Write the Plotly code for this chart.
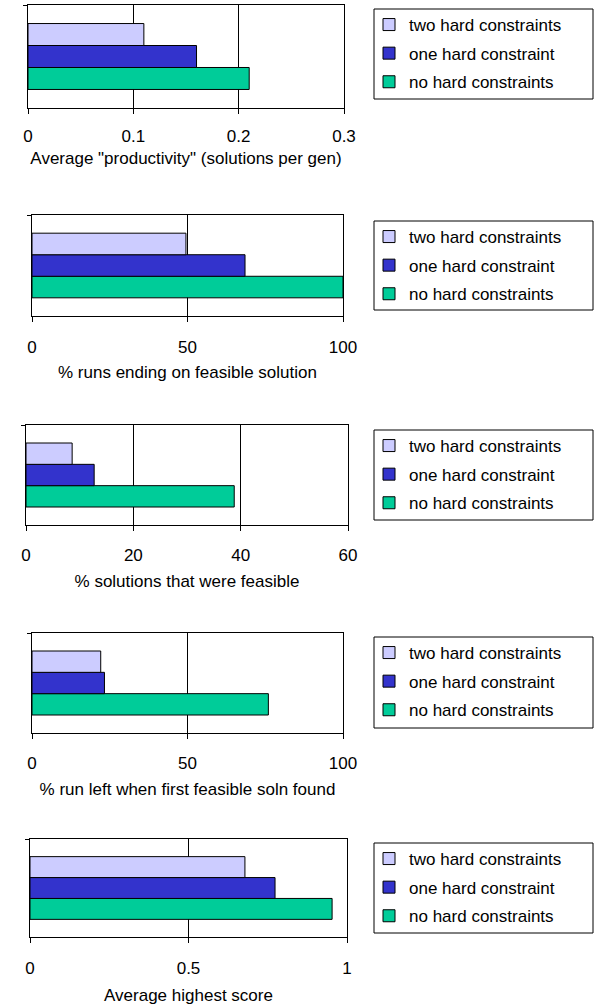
import plotly.graph_objects as go

W, H = 595, 1008

# ---------------- data ----------------
series_names = ["no hard constraints", "one hard constraint", "two hard constraints"]
series_colors = ["#00CC99", "#3333CC", "#CCCCFF"]
legend_ranks = [3, 2, 1]
category = [""]

# values ordered: no, one, two hard constraints
productivity = [0.21, 0.16, 0.11]
runs_feasible = [100, 68.5, 49.5]
solutions_feasible = [38.8, 12.7, 8.6]
run_left = [76, 23.3, 22.1]
highest_score = [0.953, 0.773, 0.678]

panel_values = [productivity, runs_feasible, solutions_feasible, run_left, highest_score]
panel_titles = [
    'Average "productivity" (solutions per gen)',
    "% runs ending on feasible solution",
    "% solutions that were feasible",
    "% run left when first feasible soln found",
    "Average highest score",
]
tick_values = [
    [0, 0.1, 0.2, 0.3],
    [0, 50, 100],
    [0, 20, 40, 60],
    [0, 50, 100],
    [0, 0.5, 1],
]

# ---------------- layout geometry (pixels) ----------------
plot_boxes = [  # left, right, top, bottom
    (28, 344, 5, 108),
    (32, 343, 215, 316),
    (26, 348, 425, 525),
    (32, 343, 633, 733),
    (30, 347, 839, 937),
]
legend_boxes = [  # left, right, top, bottom
    (374, 593, 9, 99),
    (374, 593, 221, 310),
    (374, 593, 430, 520),
    (374, 593, 637, 728),
    (374, 593, 843, 933),
]
tick_standoffs = [8, 11, 10, 10, 11]
title_standoffs = [6, 9, 10, 10, 11]

FONT = "Liberation Sans, Arial, sans-serif"
FS = 17

fig = go.Figure()
layout = dict(
    width=W, height=H,
    margin=dict(l=0, r=0, t=0, b=0),
    paper_bgcolor="white", plot_bgcolor="white",
    barmode="group", bargap=0.36, bargroupgap=0,
    font=dict(family=FONT, size=FS, color="black"),
    shapes=[],
)

for i, vals in enumerate(panel_values):
    n = "" if i == 0 else str(i + 1)
    leg = "legend" if i == 0 else f"legend{i + 1}"
    for j, name in enumerate(series_names):
        fig.add_trace(go.Bar(
            x=[vals[j]], y=category, orientation="h", name=name,
            marker=dict(color=series_colors[j], line=dict(color="black", width=1)),
            xaxis="x" + n, yaxis="y" + n, legend=leg,
            legendgroup=f"g{i}_{j}", legendrank=legend_ranks[j],
            hoverinfo="x+name",
        ))
    l, r, t, b = plot_boxes[i]
    tv = tick_values[i]
    layout["xaxis" + n] = dict(
        domain=[l / W, r / W], anchor="y" + n,
        range=[tv[0], tv[-1]], tickvals=tv,
        showgrid=True, gridcolor="black", gridwidth=1, zeroline=False,
        showline=True, linecolor="black", linewidth=1, mirror=True,
        ticks="outside", ticklen=5, tickcolor="black",
        ticklabelstandoff=tick_standoffs[i],
        tickfont=dict(size=FS),
        title=dict(text=panel_titles[i], standoff=title_standoffs[i], font=dict(size=FS)),
        automargin=False, fixedrange=True,
    )
    layout["yaxis" + n] = dict(
        domain=[1 - b / H, 1 - t / H], anchor="x" + n,
        type="category", range=[-0.5, 0.5], tickson="boundaries",
        showgrid=False, zeroline=False,
        showline=True, linecolor="black", linewidth=1, mirror=True,
        ticks="outside", ticklen=4, tickcolor="black",
        showticklabels=False, automargin=False, fixedrange=True,
    )
    ll, lr, lt, lb = legend_boxes[i]
    layout[leg] = dict(
        x=(ll - 5) / W, xanchor="left", y=1 - (lt - 2) / H, yanchor="top",
        bgcolor="rgba(0,0,0,0)", borderwidth=0,
        traceorder="grouped", tracegroupgap=3.5,
        font=dict(size=FS, family=FONT), itemclick=False, itemdoubleclick=False,
    )
    layout["shapes"].append(dict(
        type="rect", xref="paper", yref="paper",
        x0=ll / W, x1=lr / W, y0=1 - lb / H, y1=1 - lt / H,
        line=dict(color="black", width=1), fillcolor="rgba(0,0,0,0)",
    ))

fig.update_layout(**layout)
fig.write_html(
    "out.html",
    config={"displayModeBar": False},
    post_script="document.body.style.margin='0';document.body.style.padding='0';",
)
